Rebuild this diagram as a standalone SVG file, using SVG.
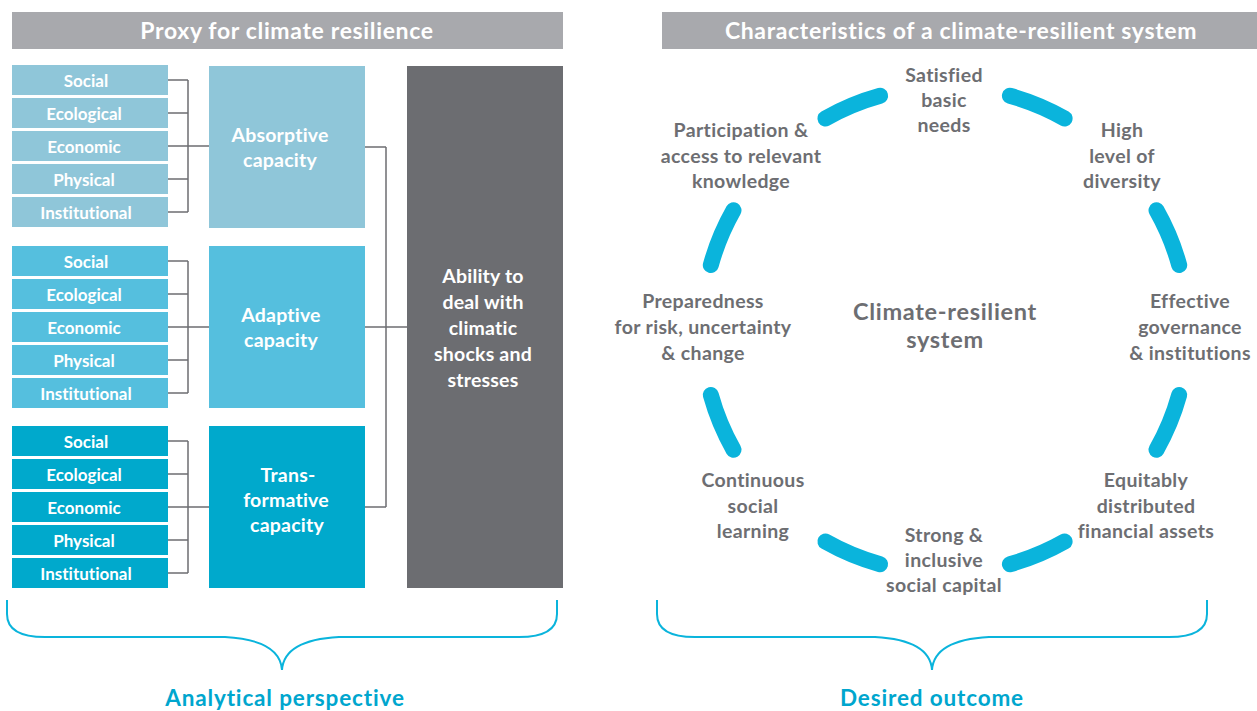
<svg xmlns="http://www.w3.org/2000/svg" width="1257" height="711" viewBox="0 0 1257 711">
<style>
text{font-family:"Lato","Liberation Sans",sans-serif;font-weight:700;text-anchor:middle;font-variant-ligatures:none}
.hdr{fill:#A8A9AD}
.hdrt{fill:#fff;font-size:23px;letter-spacing:0.65px}
.g1{fill:#8FC6D9}
.g2{fill:#55BFDE}
.g3{fill:#00A9CC}
.dark{fill:#6C6D71}
.sm{fill:#fff;font-size:17px}
.big{fill:#fff;font-size:19.5px;letter-spacing:0.2px}
.lbl{fill:#6D6E72;font-size:19.5px;letter-spacing:0.35px}
.ctr{fill:#6D6E72;font-size:23.5px;letter-spacing:0.7px}
.blue{fill:#00A6CE;font-size:22.5px;letter-spacing:0.85px}
.conn{fill:none;stroke:#6D6E72;stroke-width:1.5}
.arc{fill:none;stroke:#0AB4DC;stroke-width:16;stroke-linecap:round}
.brace{fill:none;stroke:#0AB4DC;stroke-width:2}
</style>
<rect width="1257" height="711" fill="#fff"/>
<g id="header-left"><rect class="hdr" x="12" y="12" width="551" height="37"/><text class="hdrt" x="287" y="39">Proxy for climate resilience</text></g>
<g id="header-right"><rect class="hdr" x="662" y="12" width="595" height="37"/><text class="hdrt" x="961" y="39">Characteristics of a climate-resilient system</text></g>

<g id="connectors">
<path class="conn" d="M168 80H188M168 113H188M168 146H209M168 179H188M168 212H188M188 80V212"/>
<path class="conn" d="M168 261H188M168 294H188M168 327H209M168 360H188M168 393H188M188 261V393"/>
<path class="conn" d="M168 441H188M168 474H188M168 507H209M168 540H188M168 573H188M188 441V573"/>
<path class="conn" d="M365 147H386M365 327H407M365 507H386M386 147V507"/>
</g>

<g id="absorptive-dims">
<rect class="g1" x="12" y="65" width="156" height="30"/><text class="sm" x="86" y="87">Social</text>
<rect class="g1" x="12" y="98" width="156" height="30"/><text class="sm" x="84" y="120">Ecological</text>
<rect class="g1" x="12" y="131" width="156" height="30"/><text class="sm" x="84" y="153">Economic</text>
<rect class="g1" x="12" y="164" width="156" height="30"/><text class="sm" x="84" y="186">Physical</text>
<rect class="g1" x="12" y="197" width="156" height="30"/><text class="sm" x="86" y="219">Institutional</text>
</g>
<g id="absorptive"><rect class="g1" x="209" y="66" width="156" height="162"/><text class="big" x="280" y="142">Absorptive</text><text class="big" x="280" y="167">capacity</text></g>

<g id="adaptive-dims">
<rect class="g2" x="12" y="246" width="156" height="30"/><text class="sm" x="86" y="268">Social</text>
<rect class="g2" x="12" y="279" width="156" height="30"/><text class="sm" x="84" y="301">Ecological</text>
<rect class="g2" x="12" y="312" width="156" height="30"/><text class="sm" x="84" y="334">Economic</text>
<rect class="g2" x="12" y="345" width="156" height="30"/><text class="sm" x="84" y="367">Physical</text>
<rect class="g2" x="12" y="378" width="156" height="30"/><text class="sm" x="86" y="400">Institutional</text>
</g>
<g id="adaptive"><rect class="g2" x="209" y="246" width="156" height="162"/><text class="big" x="281" y="322">Adaptive</text><text class="big" x="281" y="347">capacity</text></g>

<g id="transformative-dims">
<rect class="g3" x="12" y="426" width="156" height="30"/><text class="sm" x="86" y="448">Social</text>
<rect class="g3" x="12" y="459" width="156" height="30"/><text class="sm" x="84" y="481">Ecological</text>
<rect class="g3" x="12" y="492" width="156" height="30"/><text class="sm" x="84" y="514">Economic</text>
<rect class="g3" x="12" y="525" width="156" height="30"/><text class="sm" x="84" y="547">Physical</text>
<rect class="g3" x="12" y="558" width="156" height="30"/><text class="sm" x="86" y="580">Institutional</text>
</g>
<g id="transformative"><rect class="g3" x="209" y="426" width="156" height="162"/><text class="big" x="288" y="482">Trans-</text><text class="big" x="286" y="507">formative</text><text class="big" x="287" y="532">capacity</text></g>

<g id="ability"><rect class="dark" x="407" y="66" width="156" height="522"/>
<text class="big" x="483" y="283">Ability to</text><text class="big" x="483" y="309">deal with</text><text class="big" x="483" y="335">climatic</text><text class="big" x="483" y="361">shocks and</text><text class="big" x="483" y="387">stresses</text></g>

<g id="arcs">
<path class="arc" d="M825.4 118.5A243 243 0 0 1 880.1 95.8"/>
<path class="arc" d="M1009.9 95.8A243 243 0 0 1 1064.6 118.5"/>
<path class="arc" d="M1156.5 210.3A243 243 0 0 1 1179.2 265.1"/>
<path class="arc" d="M1179.2 394.9A243 243 0 0 1 1156.5 449.7"/>
<path class="arc" d="M1064.6 541.5A243 243 0 0 1 1009.9 564.2"/>
<path class="arc" d="M880.1 564.2A243 243 0 0 1 825.4 541.5"/>
<path class="arc" d="M733.5 449.7A243 243 0 0 1 710.8 394.9"/>
<path class="arc" d="M710.8 265.1A243 243 0 0 1 733.5 210.3"/>
</g>

<g id="center"><text class="ctr" x="945" y="320">Climate-resilient</text><text class="ctr" x="945" y="348">system</text></g>
<g id="needs"><text class="lbl" x="944" y="82">Satisfied</text><text class="lbl" x="944" y="107">basic</text><text class="lbl" x="944" y="132">needs</text></g>
<g id="diversity"><text class="lbl" x="1122" y="137">High</text><text class="lbl" x="1122" y="162.5">level of</text><text class="lbl" x="1122" y="188">diversity</text></g>
<g id="participation"><text class="lbl" x="741" y="137">Participation &amp;</text><text class="lbl" x="741" y="162.5">access to relevant</text><text class="lbl" x="741" y="188">knowledge</text></g>
<g id="preparedness"><text class="lbl" x="703" y="308">Preparedness</text><text class="lbl" x="703" y="334">for risk, uncertainty</text><text class="lbl" x="703" y="360">&amp; change</text></g>
<g id="governance"><text class="lbl" x="1190" y="308">Effective</text><text class="lbl" x="1190" y="334">governance</text><text class="lbl" x="1190" y="360">&amp; institutions</text></g>
<g id="learning"><text class="lbl" x="753" y="487">Continuous</text><text class="lbl" x="753" y="512.5">social</text><text class="lbl" x="753" y="538">learning</text></g>
<g id="financial"><text class="lbl" x="1146" y="487">Equitably</text><text class="lbl" x="1146" y="512.5">distributed</text><text class="lbl" x="1146" y="538">financial assets</text></g>
<g id="social-capital"><text class="lbl" x="944" y="542">Strong &amp;</text><text class="lbl" x="944" y="567">inclusive</text><text class="lbl" x="944" y="592">social capital</text></g>

<g id="brace-left"><path class="brace" d="M7 600V614Q7 637 45 637H225Q280 640 282 670Q284 640 339 637H519Q557 637 557 614V600"/><text class="blue" x="285" y="706">Analytical perspective</text></g>
<g id="brace-right"><path class="brace" d="M657 600V614Q657 637 695 637H875Q930 640 932 670Q934 640 989 637H1169Q1207 637 1207 614V600"/><text class="blue" x="932" y="706">Desired outcome</text></g>
</svg>
